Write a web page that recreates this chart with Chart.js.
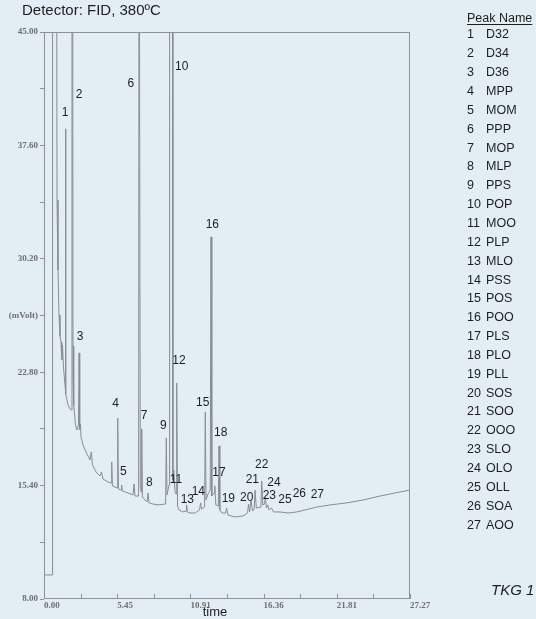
<!DOCTYPE html>
<html><head><meta charset="utf-8">
<script src="https://cdn.jsdelivr.net/npm/chart.js@4.4.1/dist/chart.umd.min.js"></script>
<style>html,body{margin:0;padding:0;background:#e3edf4;overflow:hidden}canvas{display:block}</style>
</head><body>
<canvas id="c" width="536" height="619"></canvas>
<script>
const chartTitle = 'Detector: FID, 380ºC';
const xAxisTitle = 'time';
const legendHeader = 'Peak Name';
const footNote = 'TKG 1';

const timeValues = [0, 0.596, 0.60, 0.64, 0.93, 0.969, 1.043, 1.118, 1.192, 1.267, 1.319, 1.379, 1.453, 1.528, 1.572, 1.602, 1.639, 1.788, 1.937, 2.057,
  2.086, 2.131, 2.161, 2.198, 2.235, 2.347, 2.459, 2.571, 2.615, 2.660, 2.720, 2.757, 2.906, 3.130, 3.428, 3.525, 3.614, 3.875, 4.173, 4.285,
  4.396, 4.769, 4.993, 5.045, 5.097, 5.440, 5.492, 5.544, 5.738, 5.782, 5.835, 6.259, 6.632, 6.706, 6.781, 7.049, 7.086, 7.131, 7.176, 7.235,
  7.280, 7.332, 7.526, 7.675, 7.750, 7.824, 8.122, 8.495, 9.061, 9.113, 9.165, 9.315, 9.359, 9.560, 9.605, 9.672, 9.762, 9.836, 9.888, 9.948,
  10.060, 10.358, 10.581, 10.626, 10.678, 10.879, 11.252, 11.587, 11.669, 11.736, 11.967, 12.019, 12.072, 12.221, 12.385, 12.444, 12.504, 12.675, 12.727, 12.802,
  12.988, 13.040, 13.100, 13.264, 13.532, 13.599, 13.711, 14.232, 14.829, 15.164, 15.238, 15.320, 15.425, 15.537, 15.663, 15.723, 15.820, 16.163, 16.222, 16.304,
  16.438, 16.490, 16.572, 16.677, 16.751, 16.952, 17.101, 17.586, 18.182, 18.830, 19.449, 20.321, 21.311, 22.556, 23.770, 25.037, 26.155, 27.27];

const signalValues = [9.57, 9.57, 9.57, 60, 60, 34.04, 29.48, 26.54, 25.17, 24.78, 23.60, 24.58, 23.08, 22.36, 21.90, 38.68, 21.38, 20.66, 20.40, 20.34,
  60, 60, 22.62, 24.51, 20.66, 19.36, 19.03, 19.36, 24.06, 19.03, 19.42, 18.57, 18.05, 17.60, 17.07, 17.60, 16.75, 16.29, 16.03, 16.29,
  15.83, 15.64, 15.57, 16.94, 15.38, 15.25, 19.81, 15.18, 15.11, 15.44, 15.05, 14.92, 14.79, 15.51, 14.72, 14.72, 60, 60, 15.44, 14.98,
  19.10, 14.66, 14.46, 14.33, 14.92, 14.27, 14.20, 14.14, 14.20, 18.51, 14.79, 15.44, 60, 60, 15.77, 16.42, 14.98, 14.85, 22.10, 14.07,
  13.81, 13.68, 13.74, 14.14, 13.68, 13.61, 13.61, 13.81, 14.27, 13.87, 14.01, 20.21, 14.46, 14.85, 15.11, 31.63, 14.72, 14.92, 15.38, 14.14,
  14.07, 17.99, 13.81, 13.61, 13.61, 13.94, 13.48, 13.35, 13.42, 13.61, 14.20, 13.68, 14.46, 13.74, 13.87, 15.11, 13.94, 14.00, 15.70, 14.14,
  14.20, 14.66, 13.94, 14.14, 13.81, 13.94, 13.68, 13.68, 13.61, 13.68, 13.81, 14.00, 14.14, 14.27, 14.46, 14.72, 14.92, 15.11];

const xTickValues = [0, 2.725, 5.45, 8.18, 10.91, 13.635, 16.36, 19.085, 21.81, 24.54, 27.27];
const xTickLabels = ['0.00', '', '5.45', '', '10.91', '', '16.36', '', '21.81', '', '27.27'];
const yTickValues = [8.00, 11.70, 15.40, 19.10, 22.80, 26.50, 30.20, 33.90, 37.60, 41.30, 45.00];
const yTickLabels = ['8.00', '', '15.40', '', '22.80', '(mVolt)', '30.20', '', '37.60', '', '45.00'];

const peakNumbers = [1,2,3,4,5,6,7,8,9,10,11,12,13,14,15,16,17,18,19,20,21,22,23,24,25,26,27];
const peakNames = ['D32','D34','D36','MPP','MOM','PPP','MOP','MLP','PPS','POP','MOO','PLP','MLO','PSS','POS','POO','PLS','PLO','PLL','SOS','SOO','OOO','SLO','OLO','OLL','SOA','AOO'];
const peakLabelTimes = [1.565, 2.608, 2.683, 5.343, 5.909, 6.461, 7.452, 7.846, 8.890, 10.261, 9.836, 10.060, 10.678, 11.498, 11.826, 12.541, 13.040, 13.167, 13.733, 15.104, 15.522, 16.222, 16.788, 17.139, 17.958, 19.024, 20.365];
const peakLabelSignals = [39.74, 40.90, 25.10, 20.73, 16.31, 41.62, 19.94, 15.59, 19.29, 42.75, 15.77, 23.55, 14.46, 15.00, 20.81, 32.41, 16.27, 18.86, 14.53, 14.64, 15.81, 16.75, 14.72, 15.62, 14.46, 14.85, 14.79];

const SANS = '"Liberation Sans", Arial, sans-serif';
const SERIF = '"Liberation Serif", "Times New Roman", serif';

const decor = {
  id: 'decor',
  afterDatasetsDraw(chart) {
    const {ctx, chartArea: a, scales: {x, y}} = chart;
    ctx.save();
    ctx.strokeStyle = '#8e9296';
    ctx.lineWidth = 1;
    ctx.strokeRect(a.left + 0.5, a.top + 0.5, a.right - a.left - 1, a.bottom - a.top - 1);
    xTickValues.forEach(v => {
      const px = Math.round(x.getPixelForValue(v)) + 0.5;
      ctx.beginPath(); ctx.moveTo(px, a.bottom); ctx.lineTo(px, a.bottom - 5); ctx.stroke();
    });
    ctx.fillStyle = '#1e1e1e';
    ctx.font = '12px ' + SANS;
    ctx.textAlign = 'center';
    ctx.textBaseline = 'middle';
    peakNumbers.forEach((n, i) => {
      ctx.fillText(String(n), x.getPixelForValue(peakLabelTimes[i]), y.getPixelForValue(peakLabelSignals[i]));
    });
    ctx.restore();
  },
  afterDraw(chart) {
    const {ctx, chartArea: a} = chart;
    ctx.save();
    ctx.fillStyle = '#1e1e1e';
    ctx.textBaseline = 'alphabetic';
    ctx.textAlign = 'left';
    ctx.font = '15px ' + SANS;
    ctx.fillText(chartTitle, 22, 15);
    const lx = a.right + 57, nx = a.right + 76;
    ctx.font = '12.5px ' + SANS;
    ctx.fillText(legendHeader, lx, 22);
    const w = ctx.measureText(legendHeader).width;
    ctx.fillRect(lx, 24, w, 1);
    ctx.textBaseline = 'middle';
    peakNumbers.forEach((n, i) => {
      const ry = 35 + i * 18.85;
      ctx.fillText(String(n), lx, ry);
      ctx.fillText(peakNames[i], nx, ry);
    });
    ctx.font = 'italic 15px ' + SANS;
    ctx.fillText(footNote, 491, 591);
    ctx.font = '13px ' + SANS;
    ctx.textAlign = 'center';
    ctx.fillText(xAxisTitle, 215, 612);
    ctx.restore();
  }
};

new Chart(document.getElementById('c'), {
  type: 'line',
  data: {
    datasets: [{
      data: timeValues.map((t, i) => ({x: t, y: signalValues[i]})),
      borderColor: '#878c91',
      borderWidth: 1,
      pointRadius: 0,
      tension: 0,
      fill: false
    }]
  },
  options: {
    responsive: false,
    animation: false,
    devicePixelRatio: 1,
    layout: {padding: {left: 0, top: 32, right: 126, bottom: 0}},
    plugins: {legend: {display: false}, tooltip: {enabled: false}, title: {display: false}},
    scales: {
      x: {
        type: 'linear', min: 0, max: 27.27,
        afterBuildTicks(s) { s.ticks = xTickValues.map(v => ({value: v})); },
        afterFit(s) { s.height = 20; },
        grid: {display: false, drawTicks: false, tickLength: 0},
        border: {display: false},
        ticks: {autoSkip: false, maxRotation: 0, minRotation: 0, align: 'start', padding: 1,
          color: '#6f6f6f', font: {family: SERIF, size: 9, weight: 'bold'},
          callback: (v, i) => xTickLabels[i]}
      },
      y: {
        type: 'linear', min: 8, max: 45,
        afterBuildTicks(s) { s.ticks = yTickValues.map(v => ({value: v})); },
        afterFit(s) { s.width = 44; },
        grid: {display: true, drawOnChartArea: false, drawTicks: true, tickLength: 4, color: '#8e9296'},
        border: {display: false},
        ticks: {autoSkip: false, padding: 2, color: '#6f6f6f', font: {family: SERIF, size: 9, weight: 'bold'},
          callback: (v, i) => yTickLabels[i]}
      }
    }
  },
  plugins: [decor]
});
</script>
</body></html>
